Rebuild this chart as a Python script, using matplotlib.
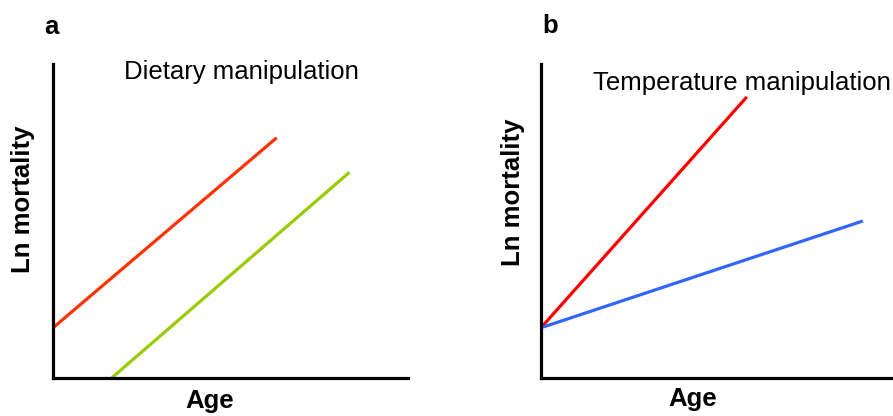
import matplotlib.pyplot as plt

plt.rcParams['font.family'] = ['Liberation Sans', 'DejaVu Sans']

# schematic lines: (age, ln mortality) end points on a 0-10 scale
diet_high_x = [0.0, 6.3]
diet_high_y = [1.6, 7.65]
diet_low_x = [1.65, 8.35]
diet_low_y = [0.0, 6.55]

temp_high_x = [0.0, 5.85]
temp_high_y = [1.6, 8.95]
temp_low_x = [0.0, 9.15]
temp_low_y = [1.6, 5.0]

fig = plt.figure(figsize=(8.93, 4.16), dpi=100)
ax1 = fig.add_axes([0.0594, 0.0913, 0.3975, 0.755])
ax2 = fig.add_axes([0.6058, 0.0913, 0.394, 0.755])

ax1.plot(diet_high_x, diet_high_y, color='#FF3300', lw=2.3, clip_on=False,
         solid_capstyle='butt')
ax1.plot(diet_low_x, diet_low_y, color='#99CC00', lw=2.3, clip_on=False,
         solid_capstyle='butt')
ax2.plot(temp_high_x, temp_high_y, color='#FF0000', lw=2.3, clip_on=False,
         solid_capstyle='butt')
ax2.plot(temp_low_x, temp_low_y, color='#3366FF', lw=2.3, clip_on=False,
         solid_capstyle='butt')

for ax in (ax1, ax2):
    ax.set_xlim(0, 10)
    ax.set_ylim(0, 10)
    ax.set_xticks([])
    ax.set_yticks([])
    for s in ('top', 'right'):
        ax.spines[s].set_visible(False)
    for s in ('left', 'bottom'):
        ax.spines[s].set_linewidth(2.3)
        ax.spines[s].set_color('black')
    ax.set_xlabel('Age', fontsize=18.5, fontweight='bold')
    ax.set_ylabel('Ln mortality', fontsize=18.5, fontweight='bold')

ax1.xaxis.set_label_coords(0.44, -0.035)
ax1.yaxis.set_label_coords(-0.05, 0.57)
ax2.xaxis.set_label_coords(0.43, -0.03)
ax2.yaxis.set_label_coords(-0.045, 0.59)

ax1.text(0.53, 0.975, 'Dietary manipulation', transform=ax1.transAxes,
         ha='center', va='center', fontsize=18.5)
ax2.text(0.995, 0.94, 'Temperature manipulation', transform=ax2.transAxes,
         ha='right', va='center', fontsize=18.5)

fig.text(0.058, 0.935, 'a', fontsize=18.5, fontweight='bold', ha='center', va='center')
fig.text(0.616, 0.937, 'b', fontsize=18.5, fontweight='bold', ha='center', va='center')

fig.savefig('out.png', dpi=100)
